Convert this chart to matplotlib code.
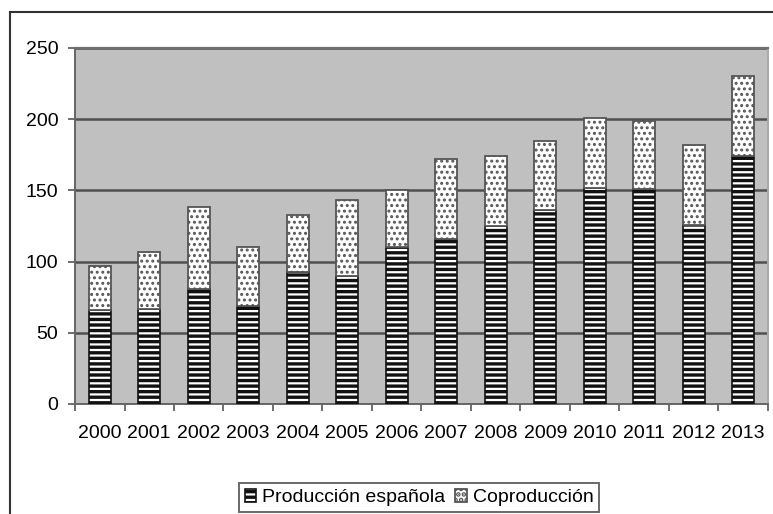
import matplotlib
matplotlib.use("Agg")
import matplotlib.pyplot as plt
from matplotlib.lines import Line2D
import numpy as np

years = ["2000", "2001", "2002", "2003", "2004", "2005", "2006",
         "2007", "2008", "2009", "2010", "2011", "2012", "2013"]
produccion_espanola = [66, 67, 81, 69, 93, 90, 110, 116, 125, 136, 152, 151, 126, 174]
coproduccion = [31, 40, 57, 41, 40, 53, 40, 56, 49, 49, 49, 48, 56, 56]
yticks = [0, 50, 100, 150, 200, 250]

plt.rcParams['font.family'] = ['Liberation Sans', 'DejaVu Sans']
plt.rcParams['hatch.linewidth'] = 2.4

W, H = 773, 514
fig = plt.figure(figsize=(W / 100, H / 100), dpi=100)
fig.patch.set_facecolor('white')
ax = fig.add_axes([75 / W, 1 - 404 / H, (768 - 75) / W, (404 - 48) / H])
ax.set_facecolor('#c0c0c0')

x = np.arange(len(years))
bw = 0.44
b1 = ax.bar(x, produccion_espanola, width=bw, color='white', edgecolor='#111111',
            hatch='---', linewidth=1.2, zorder=3, label='Producción española')
b2 = ax.bar(x, coproduccion, bottom=produccion_espanola, width=bw, color='white',
            edgecolor='#555555', hatch='...', linewidth=1.3, zorder=3, label='Coproducción')
for r in b2:
    try:
        r.set_hatch_linewidth(1.4)
    except AttributeError:
        pass

ax.set_xlim(-0.5, len(years) - 0.5)
ax.set_ylim(0, 250)
ax.set_yticks(yticks)
ax.set_yticklabels([str(v) for v in yticks], fontsize=14)
ax.yaxis.grid(True, color='#505050', linewidth=1.8, zorder=1)
ax.set_axisbelow(True)

ax.set_xticks(x)
ax.set_xticklabels(years, fontsize=14)
ax.tick_params(axis='x', length=0, pad=15)
ax.set_xticks(np.arange(-0.5, len(years), 1.0), minor=True)
ax.tick_params(axis='x', which='minor', length=5, color='#555555', width=1.2)
ax.tick_params(axis='y', length=5, color='#555555', width=1.2, pad=7)

for s in ['left', 'bottom']:
    ax.spines[s].set_color('#666666')
    ax.spines[s].set_linewidth(1.4)
ax.spines['top'].set_color('#707070')
ax.spines['top'].set_linewidth(1.6)
ax.spines['right'].set_color('#aaaaaa')
ax.spines['right'].set_linewidth(1.4)

leg = fig.legend(handles=[b1, b2], loc='upper center',
                 bbox_to_anchor=(419 / W, 1 - 473 / H), ncol=2, fontsize=14,
                 frameon=True, fancybox=False, handlelength=0.6, handleheight=0.7,
                 handletextpad=0.3, columnspacing=0.5, borderpad=0.3)
leg.get_frame().set_edgecolor('#444444')
leg.get_frame().set_linewidth(1.4)

# outer frame of the chart (cropped at right and bottom)
fig.add_artist(Line2D([10 / W, 1.0], [1 - 12 / H, 1 - 12 / H], transform=fig.transFigure,
                      color='#333333', linewidth=1.5))
fig.add_artist(Line2D([10 / W, 10 / W], [1 - 12 / H, 0.0], transform=fig.transFigure,
                      color='#333333', linewidth=1.5))

fig.savefig('out.png', dpi=100)
